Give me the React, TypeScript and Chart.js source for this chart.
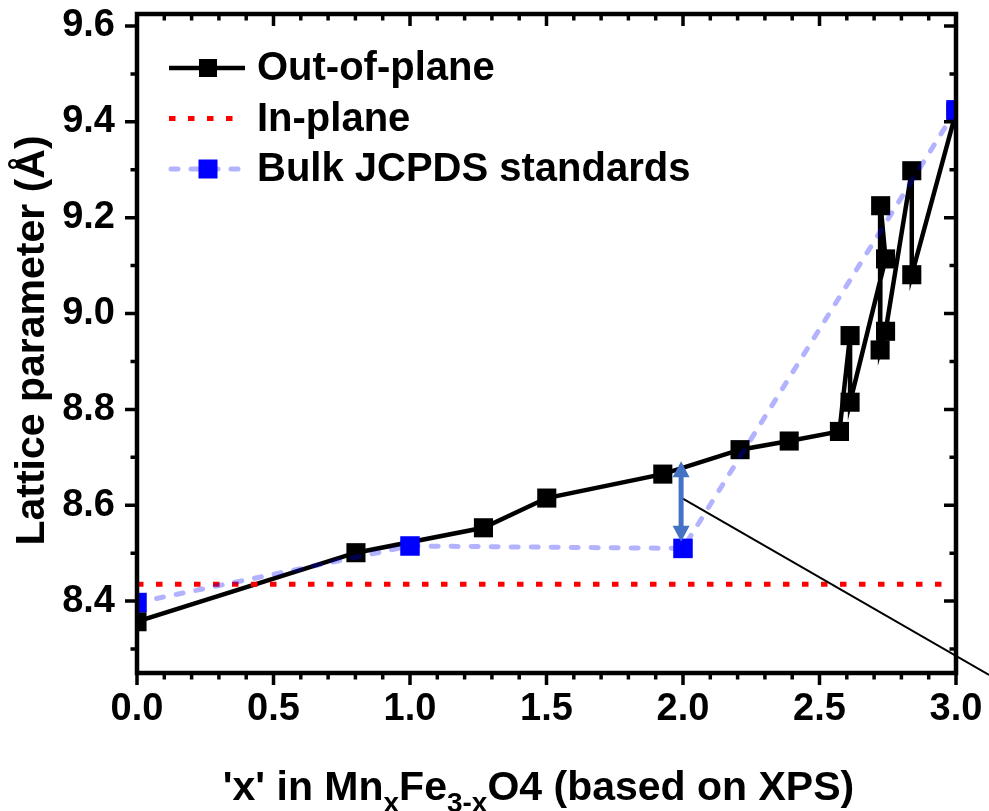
import React, { useEffect, useRef } from 'react';
import { Chart, registerables } from 'chart.js';

Chart.register(...registerables);

// Out-of-plane lattice parameter, in the order the samples were measured
const outOfPlaneX = [0, 0.802, 1.269, 1.501, 1.926, 2.209, 2.389, 2.573, 2.612, 2.612, 2.742, 2.724, 2.722, 2.742, 2.838, 2.838, 3.0];
const outOfPlaneY = [8.357, 8.501, 8.553, 8.615, 8.665, 8.716, 8.734, 8.754, 8.954, 8.815, 9.114, 9.225, 8.924, 8.963, 9.298, 9.081, 9.42];

// In-plane lattice parameter (clamped to the substrate)
const inPlaneX = [0, 0.802, 1.269, 1.501, 1.926, 2.209, 2.389, 2.573, 2.612, 2.722, 2.742, 2.838, 3.0];
const inPlaneY = [8.435, 8.435, 8.435, 8.435, 8.435, 8.435, 8.435, 8.435, 8.435, 8.435, 8.435, 8.435, 8.435];

// Bulk JCPDS reference values
const bulkX = [0, 1, 2, 3];
const bulkY = [8.397, 8.515, 8.51, 9.425];

// Axis ticks
const xMajorTicks = [0, 0.5, 1.0, 1.5, 2.0, 2.5, 3.0];
const yMajorTicks = [8.4, 8.6, 8.8, 9.0, 9.2, 9.4, 9.6];
const xMinorStep = 0.1;
const yMinorStep = 0.1;
const xRange = [0, 3];
const yRange = [8.25, 9.625];

// Strain arrow between film and bulk at x = 2, and the leader line to the inset
const strainArrow = { x: 1.993, yLow: 8.524, yHigh: 8.692 };
const leaderLine = { x1: 1.993, y1: 8.616, x2: 3.121, y2: 8.246 };

const legendLabels = ['Out-of-plane', 'In-plane', 'Bulk JCPDS standards'];

const FONT = "'Liberation Sans', Arial, Helvetica, sans-serif";

const BLACK = '#000000';
const RED = '#ff0000';
const BULK_LINE = 'rgba(0, 0, 255, 0.3)';
const BULK_MARK = '#0000ff';
const ARROW = '#4472c4';

const zip = (xs: number[], ys: number[]) => xs.map((x, i) => ({ x, y: ys[i] }));

function minorValues(min: number, max: number, step: number, majors: number[]) {
  const out: number[] = [];
  const start = Math.ceil(min / step - 1e-6);
  const end = Math.floor(max / step + 1e-6);
  for (let k = start; k <= end; k++) {
    const v = k * step;
    if (!majors.some((m) => Math.abs(m - v) < 1e-6)) out.push(v);
  }
  return out;
}

const decorations = {
  id: 'decorations',
  afterDatasetsDraw(chart: any) {
    const { ctx, chartArea: a, scales } = chart;
    const xs = scales.x;
    const ys = scales.y;
    ctx.save();

    // leader line toward the inset (not clipped)
    ctx.strokeStyle = BLACK;
    ctx.lineWidth = 2;
    ctx.beginPath();
    ctx.moveTo(xs.getPixelForValue(leaderLine.x1), ys.getPixelForValue(leaderLine.y1));
    ctx.lineTo(xs.getPixelForValue(leaderLine.x2), ys.getPixelForValue(leaderLine.y2));
    ctx.stroke();

    // double-headed strain arrow
    const ax = xs.getPixelForValue(strainArrow.x);
    const top = ys.getPixelForValue(strainArrow.yHigh);
    const bot = ys.getPixelForValue(strainArrow.yLow);
    const head = 16;
    const halfW = 8.5;
    ctx.strokeStyle = ARROW;
    ctx.fillStyle = ARROW;
    ctx.lineWidth = 5;
    ctx.beginPath();
    ctx.moveTo(ax, top + head - 1);
    ctx.lineTo(ax, bot - head + 1);
    ctx.stroke();
    ctx.beginPath();
    ctx.moveTo(ax, top);
    ctx.lineTo(ax - halfW, top + head);
    ctx.lineTo(ax + halfW, top + head);
    ctx.closePath();
    ctx.fill();
    ctx.beginPath();
    ctx.moveTo(ax, bot);
    ctx.lineTo(ax - halfW, bot - head);
    ctx.lineTo(ax + halfW, bot - head);
    ctx.closePath();
    ctx.fill();

    // frame
    ctx.strokeStyle = BLACK;
    ctx.lineWidth = 4.5;
    ctx.strokeRect(a.left, a.top, a.right - a.left, a.bottom - a.top);

    // ticks: outward on bottom/left, inward on top/right
    const major = 12;
    const minor = 6.5;
    ctx.lineWidth = 3.5;
    ctx.lineCap = 'butt';
    const xMin = minorValues(xRange[0], xRange[1], xMinorStep, xMajorTicks);
    const yMin = minorValues(yRange[0], yRange[1], yMinorStep, yMajorTicks);
    ctx.beginPath();
    const xTick = (v: number, len: number) => {
      const px = xs.getPixelForValue(v);
      ctx.moveTo(px, a.bottom);
      ctx.lineTo(px, a.bottom + len);
      ctx.moveTo(px, a.top);
      ctx.lineTo(px, a.top + len);
    };
    const yTick = (v: number, len: number) => {
      const py = ys.getPixelForValue(v);
      ctx.moveTo(a.left, py);
      ctx.lineTo(a.left - len, py);
      ctx.moveTo(a.right, py);
      ctx.lineTo(a.right - len, py);
    };
    xMajorTicks.forEach((v) => xTick(v, major));
    xMin.forEach((v) => xTick(v, minor));
    yMajorTicks.forEach((v) => yTick(v, major));
    yMin.forEach((v) => yTick(v, minor));
    ctx.stroke();

    ctx.restore();
  },
  afterDraw(chart: any) {
    const { ctx, chartArea: a } = chart;
    const ds = chart.data.datasets;
    ctx.save();

    // legend
    const rows = [68, 118.5, 169];
    const lx0 = 169;
    const lx1 = 245;
    const mx = (lx0 + lx1) / 2 + 1;
    rows.forEach((ry, i) => {
      const d = ds[i];
      ctx.save();
      ctx.strokeStyle = d.borderColor;
      ctx.lineWidth = d.borderWidth;
      ctx.setLineDash(d.borderDash || []);
      ctx.lineCap = d.borderCapStyle || 'butt';
      ctx.beginPath();
      ctx.moveTo(lx0 + (d.borderCapStyle === 'round' ? 2 : 0), ry);
      ctx.lineTo(lx1, ry);
      ctx.stroke();
      ctx.restore();
      if (d.pointRadius > 0) {
        const s = d.legendMark;
        ctx.fillStyle = d.pointBackgroundColor;
        ctx.fillRect(mx - s / 2, ry - s / 2, s, s);
      }
      ctx.fillStyle = BLACK;
      ctx.font = `bold 40px ${FONT}`;
      ctx.textAlign = 'left';
      ctx.textBaseline = 'middle';
      ctx.fillText(legendLabels[i], 257, ry + 1);
    });

    // y-axis title
    ctx.fillStyle = BLACK;
    ctx.save();
    ctx.translate(44, (a.top + a.bottom) / 2 - 3);
    ctx.rotate(-Math.PI / 2);
    ctx.font = `bold 41px ${FONT}`;
    ctx.textAlign = 'center';
    ctx.textBaseline = 'alphabetic';
    ctx.fillText('Lattice parameter (Å)', 0, 0);
    ctx.restore();

    // x-axis title with subscripts
    const parts = [
      { t: "'x' in Mn", sub: false },
      { t: 'x', sub: true },
      { t: 'Fe', sub: false },
      { t: '3-x', sub: true },
      { t: 'O4 (based on XPS)', sub: false },
    ];
    const mainFont = `bold 41px ${FONT}`;
    const subFont = `bold 28px ${FONT}`;
    let total = 0;
    parts.forEach((p) => {
      ctx.font = p.sub ? subFont : mainFont;
      total += ctx.measureText(p.t).width;
    });
    let cx = (a.left + a.right) / 2 - 8 - total / 2;
    const base = 800;
    ctx.textAlign = 'left';
    ctx.textBaseline = 'alphabetic';
    parts.forEach((p) => {
      ctx.font = p.sub ? subFont : mainFont;
      ctx.fillText(p.t, cx, p.sub ? base + 12 : base);
      cx += ctx.measureText(p.t).width;
    });

    ctx.restore();
  },
};

export default function App() {
  const ref = useRef<HTMLCanvasElement | null>(null);

  useEffect(() => {
    if (!ref.current) return;
    const tickFont = { family: FONT, size: 38, weight: 'bold' as const };
    const chart = new Chart(ref.current, {
      type: 'line',
      data: {
        datasets: [
          {
            label: legendLabels[0],
            data: zip(outOfPlaneX, outOfPlaneY),
            borderColor: BLACK,
            borderWidth: 4.5,
            pointStyle: 'rect',
            pointRadius: 13.5,
            pointBackgroundColor: BLACK,
            pointBorderColor: BLACK,
            pointBorderWidth: 0,
            tension: 0,
            order: 3,
            legendMark: 18,
          } as any,
          {
            label: legendLabels[1],
            data: zip(inPlaneX, inPlaneY),
            borderColor: RED,
            borderWidth: 5,
            borderDash: [6.5, 12.5],
            pointRadius: 0,
            tension: 0,
            order: 2,
          } as any,
          {
            label: legendLabels[2],
            data: zip(bulkX, bulkY),
            borderColor: BULK_LINE,
            borderWidth: 5,
            borderDash: [7, 13],
            borderCapStyle: 'round',
            pointStyle: 'rect',
            pointRadius: 13.8,
            pointBackgroundColor: BULK_MARK,
            pointBorderColor: BULK_MARK,
            pointBorderWidth: 0,
            tension: 0,
            order: 1,
            legendMark: 19,
          } as any,
        ],
      },
      options: {
        animation: false,
        responsive: false,
        devicePixelRatio: 1,
        layout: { padding: { left: 0, top: 14, right: 33, bottom: 0 } },
        plugins: {
          legend: { display: false },
          tooltip: { enabled: false },
        },
        scales: {
          x: {
            type: 'linear',
            min: xRange[0],
            max: xRange[1],
            bounds: 'data',
            grid: { display: false, drawTicks: false },
            border: { display: false },
            ticks: {
              font: tickFont,
              color: BLACK,
              padding: 14,
              maxRotation: 0,
              autoSkip: false,
              callback: (v: any) => Number(v).toFixed(1),
            },
            afterBuildTicks: (s: any) => {
              s.ticks = xMajorTicks.map((value) => ({ value }));
            },
            afterFit: (s: any) => {
              s.height = 138;
              s.paddingLeft = 0;
              s.paddingRight = 0;
            },
          },
          y: {
            type: 'linear',
            min: yRange[0],
            max: yRange[1],
            bounds: 'data',
            grid: { display: false, drawTicks: false },
            border: { display: false },
            ticks: {
              font: tickFont,
              color: BLACK,
              padding: 22,
              autoSkip: false,
              callback: (v: any) => Number(v).toFixed(1),
            },
            afterBuildTicks: (s: any) => {
              s.ticks = yMajorTicks.map((value) => ({ value }));
            },
            afterFit: (s: any) => {
              s.width = 137;
              s.paddingTop = 0;
              s.paddingBottom = 0;
            },
          },
        },
      } as any,
      plugins: [decorations],
    });
    return () => chart.destroy();
  }, []);

  return (
    <div style={{ position: 'fixed', left: 0, top: 0, width: 989, height: 811, background: '#fff' }}>
      <canvas ref={ref} width={989} height={811} style={{ width: 989, height: 811, display: 'block' }} />
    </div>
  );
}
